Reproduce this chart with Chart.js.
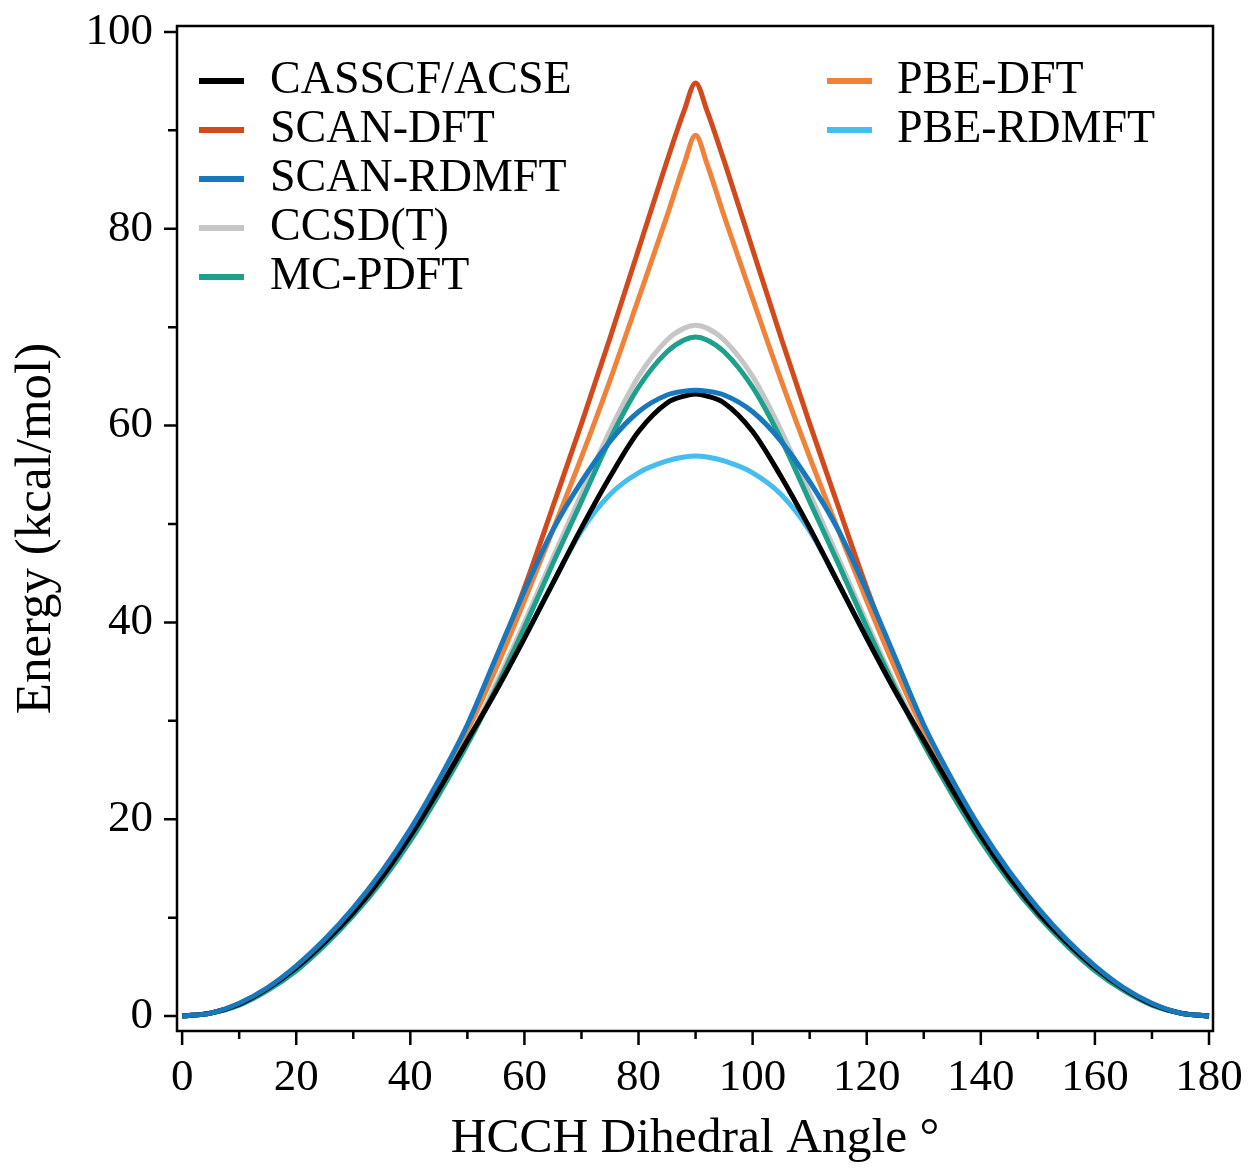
<!DOCTYPE html>
<html>
<head>
<meta charset="utf-8">
<script src="https://cdn.jsdelivr.net/npm/chart.js@4.4.1/dist/chart.umd.min.js"></script>
<style>
  body { margin: 0; background: #fff; }
  #wrap { width: 1250px; height: 1172px; position: relative; }
</style>
</head>
<body>
<div id="wrap"><canvas id="myChart"></canvas></div>
<script>
// dihedral angles (degrees) and energies (kcal/mol)
const angles = [0, 5, 10, 15, 20, 25, 30, 35, 40, 45, 50, 55, 60, 65, 70, 75, 80, 85, 88, 90,
  92, 95, 100, 105, 110, 115, 120, 125, 130, 135, 140, 145, 150, 155, 160, 165, 170, 175, 180];

const casscf = [0, 0.3, 1.2, 2.8, 4.9, 7.5, 10.5, 14.1, 18.3, 23.0, 28.0, 33.0, 38.4, 44.0, 49.6, 54.8, 59.4, 62.3, 63.0, 63.2,
  63.0, 62.3, 59.4, 54.8, 49.6, 44.0, 38.4, 33.0, 28.0, 23.0, 18.3, 14.1, 10.5, 7.5, 4.9, 2.8, 1.2, 0.3, 0];
const scanDft = [0, 0.3, 1.2, 2.8, 5.0, 7.7, 10.8, 14.5, 18.8, 23.8, 29.4, 36.0, 43.5, 51.8, 60.2, 68.9, 77.9, 86.9, 92.0, 94.8,
  92.0, 86.9, 77.9, 68.9, 60.2, 51.8, 43.5, 36.0, 29.4, 23.8, 18.8, 14.5, 10.8, 7.7, 5.0, 2.8, 1.2, 0.3, 0];
const scanRdmft = [0, 0.3, 1.3, 2.9, 5.1, 7.8, 11.0, 14.7, 19.0, 24.0, 29.6, 36.4, 43.2, 49.4, 54.3, 58.4, 61.4, 63.1, 63.5, 63.6,
  63.5, 63.1, 61.4, 58.4, 54.3, 49.4, 43.2, 36.4, 29.6, 24.0, 19.0, 14.7, 11.0, 7.8, 5.1, 2.9, 1.3, 0.3, 0];
const ccsdt = [0, 0.3, 1.2, 2.7, 4.8, 7.4, 10.4, 13.9, 18.0, 22.7, 27.9, 33.7, 40.0, 46.6, 53.1, 59.5, 65.0, 68.7, 69.9, 70.2,
  69.9, 68.7, 65.0, 59.5, 53.1, 46.6, 40.0, 33.7, 27.9, 22.7, 18.0, 13.9, 10.4, 7.4, 4.8, 2.7, 1.2, 0.3, 0];
const mcpdft = [0, 0.3, 1.1, 2.6, 4.6, 7.2, 10.2, 13.7, 17.8, 22.5, 27.6, 33.3, 39.5, 46.0, 52.3, 58.6, 63.9, 67.5, 68.7, 69.0,
  68.7, 67.5, 63.9, 58.6, 52.3, 46.0, 39.5, 33.3, 27.6, 22.5, 17.8, 13.7, 10.2, 7.2, 4.6, 2.6, 1.1, 0.3, 0];
const pbeDft = [0, 0.3, 1.2, 2.8, 5.0, 7.6, 10.7, 14.3, 18.6, 23.5, 29.0, 35.3, 42.2, 49.4, 56.8, 64.6, 72.9, 81.3, 86.6, 89.5,
  86.6, 81.3, 72.9, 64.6, 56.8, 49.4, 42.2, 35.3, 29.0, 23.5, 18.6, 14.3, 10.7, 7.6, 5.0, 2.8, 1.2, 0.3, 0];
const pbeRdmft = [0, 0.3, 1.2, 2.8, 4.9, 7.5, 10.5, 14.1, 18.3, 23.0, 28.0, 33.0, 38.4, 44.0, 49.3, 53.0, 55.2, 56.4, 56.8, 56.9,
  56.8, 56.4, 55.2, 53.0, 49.3, 44.0, 38.4, 33.0, 28.0, 23.0, 18.3, 14.1, 10.5, 7.5, 4.9, 2.8, 1.2, 0.3, 0];

const xTicks = [0, 10, 20, 30, 40, 50, 60, 70, 80, 90, 100, 110, 120, 130, 140, 150, 160, 170, 180];
const yTicks = [0, 10, 20, 30, 40, 50, 60, 70, 80, 90, 100];

const serif = "'Liberation Serif', 'Times New Roman', serif";

function series(label, values, color, order) {
  return {
    label: label,
    data: angles.map((a, i) => ({ x: a, y: values[i] })),
    borderColor: color,
    backgroundColor: color,
    borderWidth: 5,
    pointRadius: 0,
    cubicInterpolationMode: "monotone",
    fill: false,
    order: order,
  };
}

// frame box plus outward ticks (long at labelled values, short in between)
const frameAndTicks = {
  id: "frameAndTicks",
  afterDraw(chart) {
    const { ctx, chartArea: a, scales } = chart;
    ctx.save();
    ctx.strokeStyle = "#000";
    ctx.lineWidth = 2.5;
    ctx.strokeRect(a.left, a.top, a.right - a.left, a.bottom - a.top);
    ctx.beginPath();
    xTicks.forEach((v) => {
      const px = scales.x.getPixelForValue(v);
      ctx.moveTo(px, a.bottom);
      ctx.lineTo(px, a.bottom + (v % 20 === 0 ? 14 : 8));
    });
    yTicks.forEach((v) => {
      const py = scales.y.getPixelForValue(v);
      ctx.moveTo(a.left, py);
      ctx.lineTo(a.left - (v % 20 === 0 ? 13 : 9), py);
    });
    ctx.stroke();
    ctx.restore();
  },
};

// two-column legend inside the plot
const insideLegend = {
  id: "insideLegend",
  afterDraw(chart) {
    const { ctx } = chart;
    const cols = [
      { lineX: 199, textX: 270, items: [0, 1, 2, 3, 4] },
      { lineX: 827, textX: 897, items: [5, 6] },
    ];
    ctx.save();
    ctx.font = "46px " + serif;
    ctx.textBaseline = "middle";
    ctx.textAlign = "left";
    cols.forEach((col) => {
      col.items.forEach((idx, row) => {
        const ds = chart.data.datasets[idx];
        const y = 81 + row * 49;
        ctx.strokeStyle = ds.borderColor;
        ctx.lineWidth = 6;
        ctx.beginPath();
        ctx.moveTo(col.lineX, y);
        ctx.lineTo(col.lineX + 45, y);
        ctx.stroke();
        ctx.fillStyle = "#000";
        ctx.fillText(ds.label, col.textX, y);
      });
    });
    ctx.restore();
  },
};

const ctx = document.getElementById("myChart").getContext("2d");
new Chart(ctx, {
  type: "line",
  data: {
    datasets: [
      series("CASSCF/ACSE", casscf, "#000000", 1),
      series("SCAN-DFT", scanDft, "#D24A1C", 6),
      series("SCAN-RDMFT", scanRdmft, "#1878BE", 0),
      series("CCSD(T)", ccsdt, "#C6C6C6", 3),
      series("MC-PDFT", mcpdft, "#1FA08C", 2),
      series("PBE-DFT", pbeDft, "#F0823A", 5),
      series("PBE-RDMFT", pbeRdmft, "#45BDEF", 4),
    ],
  },
  options: {
    responsive: true,
    maintainAspectRatio: false,
    animation: false,
    layout: { padding: { top: 26, right: 37, left: 0, bottom: 0 } },
    scales: {
      x: {
        type: "linear",
        min: -0.9,
        max: 180.7,
        afterBuildTicks: (s) => { s.ticks = xTicks.map((v) => ({ value: v })); },
        afterFit: (s) => { s.height = 141; s.paddingLeft = 0; s.paddingRight = 0; },
        grid: { display: false, drawTicks: false, tickLength: 0 },
        border: { display: false },
        ticks: {
          autoSkip: false,
          maxRotation: 0,
          padding: 20,
          color: "#000",
          font: { family: serif, size: 45 },
          callback: (v) => (v % 20 === 0 ? String(v) : ""),
        },
        title: {
          display: true,
          text: "HCCH Dihedral Angle °",
          color: "#000",
          font: { family: serif, size: 49.5 },
          padding: { top: 0, bottom: 3 },
        },
      },
      y: {
        type: "linear",
        min: -1.52,
        max: 100.6,
        afterBuildTicks: (s) => { s.ticks = yTicks.map((v) => ({ value: v })); },
        afterFit: (s) => { s.width = 177; s.paddingTop = 0; s.paddingBottom = 0; },
        grid: { display: false, drawTicks: false, tickLength: 0 },
        border: { display: false },
        ticks: {
          autoSkip: false,
          padding: 24,
          color: "#000",
          font: { family: serif, size: 45 },
          callback: (v) => (v % 20 === 0 ? String(v) : ""),
        },
        title: {
          display: true,
          text: "Energy (kcal/mol)",
          color: "#000",
          font: { family: serif, size: 51 },
          padding: { top: 6, bottom: 0 },
        },
      },
    },
    plugins: {
      legend: { display: false },
      tooltip: { enabled: false },
    },
  },
  plugins: [frameAndTicks, insideLegend],
});
</script>
</body>
</html>
